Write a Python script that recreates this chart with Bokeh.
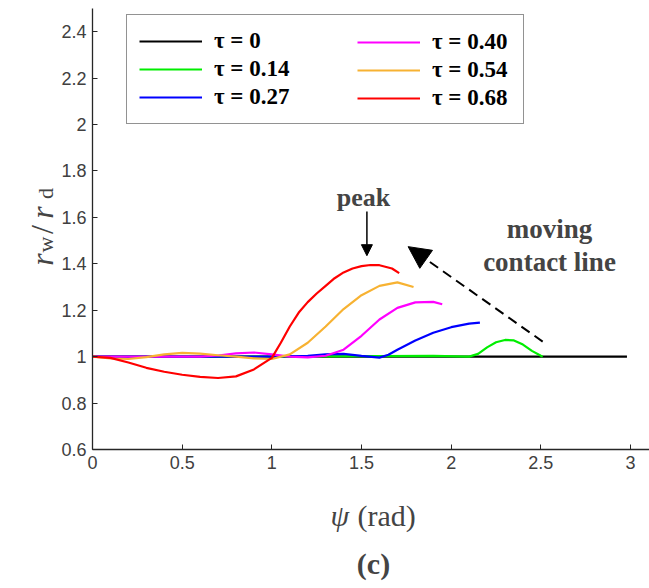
from bokeh.plotting import figure
from bokeh.models import Range1d, FixedTicker, Legend, LegendItem, Label, Arrow, NormalHead, LinearAxis
from bokeh.embed import file_html
from bokeh.resources import INLINE
import math

# ---------------- data ----------------
x_tau0 = [0.0, 1.0, 2.0, 2.98]
y_tau0 = [1.0, 1.0, 1.0, 1.0]

x_tau014 = [0.0, 1.0, 1.9, 2.1, 2.15, 2.2, 2.25, 2.3, 2.35, 2.4, 2.45, 2.5, 2.51]
y_tau014 = [1.0, 1.0, 1.003, 1.0, 1.012, 1.04, 1.062, 1.072, 1.07, 1.052, 1.025, 1.004, 1.0]

x_tau027 = [0.0, 1.0, 1.2, 1.3, 1.4, 1.5, 1.6, 1.65, 1.7, 1.8, 1.9, 2.0, 2.1, 2.16]
y_tau027 = [1.0, 1.0, 1.004, 1.01, 1.012, 1.003, 0.996, 1.008, 1.03, 1.07, 1.103, 1.127, 1.142, 1.147]

x_tau040 = [0.0, 0.6, 0.7, 0.8, 0.9, 1.0, 1.1, 1.2, 1.3, 1.4, 1.5, 1.6, 1.7, 1.8, 1.9, 1.95]
y_tau040 = [1.0, 1.0, 1.005, 1.014, 1.018, 1.01, 1.0, 0.997, 1.004, 1.03, 1.09, 1.16, 1.21, 1.234, 1.236, 1.226]

x_tau054 = [0.0, 0.1, 0.2, 0.3, 0.4, 0.5, 0.6, 0.7, 0.8, 0.9, 1.0, 1.1, 1.2, 1.3, 1.4, 1.5, 1.6, 1.7, 1.79]
y_tau054 = [1.0, 0.992, 0.99, 0.998, 1.01, 1.016, 1.013, 1.006, 1.0, 0.993, 0.99, 1.01, 1.06, 1.13, 1.205, 1.265, 1.305, 1.32, 1.30]

x_tau068 = [0.0, 0.1, 0.2, 0.3, 0.4, 0.5, 0.6, 0.7, 0.8, 0.9, 1.0, 1.05, 1.1, 1.15, 1.2, 1.25, 1.3, 1.35, 1.4, 1.45,
            1.5, 1.55, 1.6, 1.67, 1.71]
y_tau068 = [1.0, 0.995, 0.975, 0.952, 0.935, 0.922, 0.913, 0.908, 0.915, 0.945, 0.995, 1.06, 1.13, 1.19, 1.235, 1.272,
            1.305, 1.338, 1.363, 1.38, 1.39, 1.395, 1.394, 1.38, 1.36]

series_labels = ["τ = 0", "τ = 0.14", "τ = 0.27", "τ = 0.40", "τ = 0.54", "τ = 0.68"]
series_colors = ["#000000", "#00ee00", "#0000ff", "#ff00ff", "#f7b232", "#ff0000"]

x_ticks = [0, 0.5, 1, 1.5, 2, 2.5, 3]
x_tick_labels = ["0", "0.5", "1", "1.5", "2", "2.5", "3"]
y_ticks = [0.6, 0.8, 1.0, 1.2, 1.4, 1.6, 1.8, 2.0, 2.2, 2.4]
y_tick_labels = ["0.6", "0.8", "1", "1.2", "1.4", "1.6", "1.8", "2", "2.2", "2.4"]

# annotation anchor points (data units)
peak_arrow_x = 1.53
peak_arrow_y = [1.625, 1.435]
contact_arrow_start = (2.51, 1.065)
contact_arrow_end = (1.76, 1.474)

# ---------------- layout geometry ----------------
W, H = 649, 588
X0_PX, XS = 92, 179.35        # pixel of x=0, pixels per unit
Y0_PX, YS = 449, 232.1        # pixel of y=0.6, pixels per unit
Y_AX_MIN, Y_AX_MAX = 0.6, 2.5
X_AX_MAX = (W - X0_PX) / XS

def dx(px):
    return (px - X0_PX) / XS

def dy(py):
    return Y_AX_MIN + (Y0_PX - py) / YS

p = figure(width=W, height=H, output_backend="svg", toolbar_location=None,
           x_range=Range1d(dx(0), dx(W)), y_range=Range1d(dy(H), dy(0)),
           x_axis_location=None, y_axis_location=None,
           min_border_left=0, min_border_right=0, min_border_top=0, min_border_bottom=0)
p.outline_line_color = None
p.grid.visible = False
p.background_fill_color = "white"
p.border_fill_color = "white"

xax = LinearAxis(fixed_location=Y_AX_MIN, bounds=(0, X_AX_MAX), ticker=FixedTicker(ticks=x_ticks))
yax = LinearAxis(fixed_location=0, bounds=(Y_AX_MIN, Y_AX_MAX), ticker=FixedTicker(ticks=y_ticks))
xax.major_label_overrides = {t: s for t, s in zip(x_ticks, x_tick_labels)}
yax.major_label_overrides = {t: s for t, s in zip(y_ticks, y_tick_labels)}
for ax in (xax, yax):
    ax.axis_line_color = "#262626"
    ax.axis_line_width = 1.3
    ax.major_tick_line_color = "#262626"
    ax.major_tick_in = 5
    ax.major_tick_out = 0
    ax.minor_tick_line_color = None
    ax.major_label_text_font = "Liberation Sans"
    ax.major_label_text_font_size = "18px"
    ax.major_label_text_color = "#404040"
    ax.major_label_standoff = 6
p.add_layout(xax, "below")
p.add_layout(yax, "left")

xs = [x_tau0, x_tau014, x_tau027, x_tau040, x_tau054, x_tau068]
ys = [y_tau0, y_tau014, y_tau027, y_tau040, y_tau054, y_tau068]
renderers = []
for x, y, c in zip(xs, ys, series_colors):
    r = p.line(x, y, line_color=c, line_width=2.2)
    renderers.append(r)

# legend: boxed first column, second column overlaid
leg1 = Legend(items=[LegendItem(label=series_labels[i], renderers=[renderers[i]]) for i in range(3)],
              location=(126, H - 124), orientation="vertical")
leg2 = Legend(items=[LegendItem(label=series_labels[i], renderers=[renderers[i]]) for i in range(3, 6)],
              location=(357, H - 112), orientation="vertical")
for lg in (leg1, leg2):
    lg.label_text_font = "Liberation Serif"
    lg.label_text_font_style = "bold"
    lg.label_text_font_size = "23px"
    lg.label_text_color = "black"
    lg.glyph_width = 63
    lg.glyph_height = 28
    lg.label_height = 28
    lg.label_standoff = 12
    lg.spacing = 0
    lg.click_policy = "none"
leg1.padding = 12
leg1.margin = 0
leg1.label_width = 297
leg1.border_line_color = "#262626"
leg1.border_line_width = 1.5
leg1.background_fill_color = "white"
leg1.background_fill_alpha = 1.0
leg2.padding = 0
leg2.margin = 0
leg2.border_line_color = None
leg2.background_fill_alpha = 0.0
p.add_layout(leg1)
p.add_layout(leg2)

# annotations
p.add_layout(Label(x=dx(363), y=dy(197), text="peak", text_font="Liberation Serif",
                   text_font_style="bold", text_font_size="26px", text_align="center",
                   text_baseline="middle"))
p.add_layout(Arrow(x_start=peak_arrow_x, y_start=peak_arrow_y[0], x_end=peak_arrow_x, y_end=peak_arrow_y[1],
                   line_width=1.5, line_color="black",
                   end=NormalHead(size=11, fill_color="black", line_color="black")))
p.add_layout(Arrow(x_start=contact_arrow_start[0], y_start=contact_arrow_start[1],
                   x_end=contact_arrow_end[0], y_end=contact_arrow_end[1],
                   line_width=2, line_color="black", line_dash="10 6",
                   end=NormalHead(size=22, fill_color="black", line_color="black", line_dash="solid")))
p.add_layout(Label(x=dx(549), y=dy(228), text="moving", text_font="Liberation Serif",
                   text_font_style="bold", text_font_size="27px", text_align="center",
                   text_baseline="middle"))
p.add_layout(Label(x=dx(549), y=dy(261), text="contact line", text_font="Liberation Serif",
                   text_font_style="bold", text_font_size="27px", text_align="center",
                   text_baseline="middle"))

# y-axis label pieces: r_w / r_d (rotated)
ang = math.pi / 2
ylab = [("r", 259, 41, "italic", "32px"), ("w", 244, 45, "normal", "22px"),
        ("/", 229, 41, "normal", "32px"), ("r", 212, 41, "italic", "32px"),
        ("d", 193, 45, "normal", "22px")]
for t, py, px, st, fs in ylab:
    p.add_layout(Label(x=dx(px), y=dy(py), text=t, angle=ang, text_font="Liberation Serif",
                       text_font_style=st, text_font_size=fs, text_align="center",
                       text_baseline="alphabetic"))

# x-axis label: psi (rad)
p.add_layout(Label(x=dx(330), y=dy(515), text="ψ", text_font="Liberation Serif",
                   text_font_style="italic", text_font_size="30px", text_align="left",
                   text_baseline="middle"))
p.add_layout(Label(x=dx(357), y=dy(515), text="(rad)", text_font="Liberation Serif",
                   text_font_style="normal", text_font_size="30px", text_align="left",
                   text_baseline="middle"))
p.add_layout(Label(x=dx(373), y=dy(563), text="(c)", text_font="Liberation Serif",
                   text_font_style="bold", text_font_size="30px", text_align="center",
                   text_baseline="middle"))

open("out.html", "w").write(file_html(p, INLINE))
